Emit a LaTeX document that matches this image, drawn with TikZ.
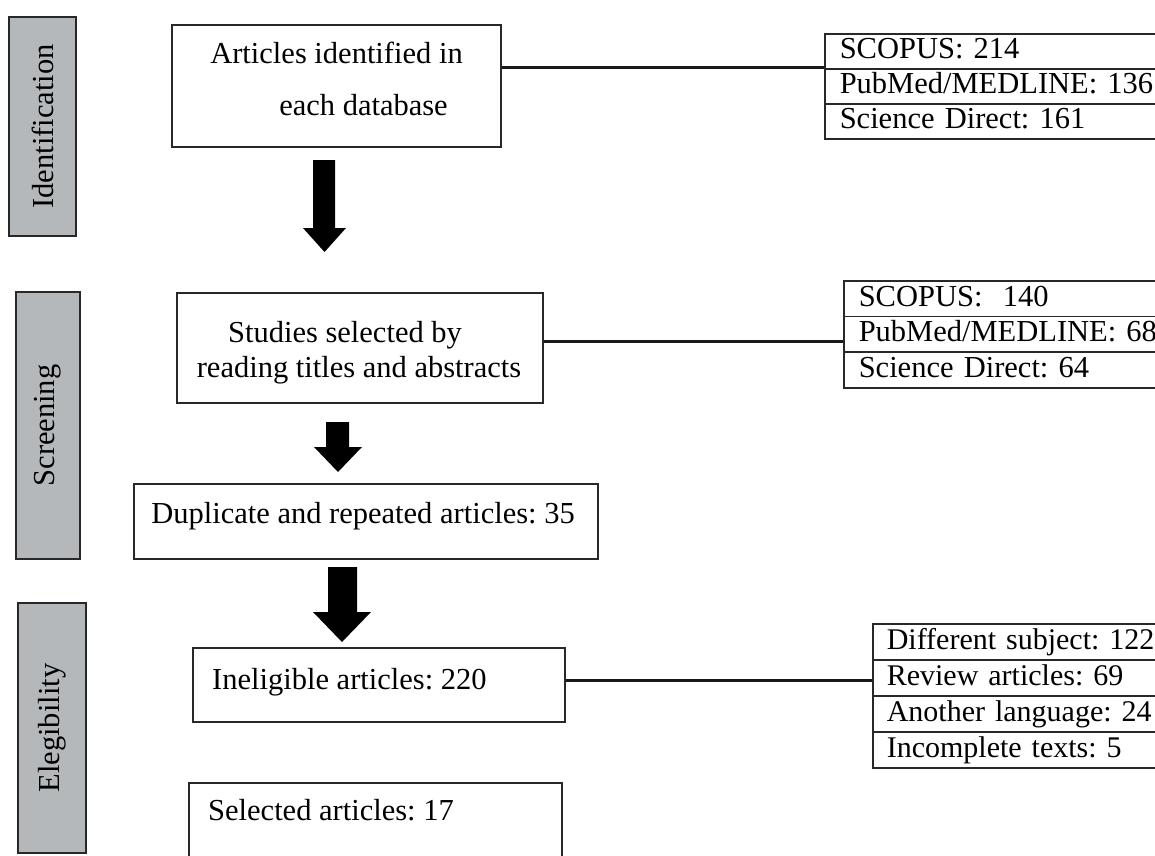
\documentclass[tikz,border=0pt]{standalone}
\usepackage{fontspec}
\setmainfont{Liberation Serif}
\definecolor{phasegrey}{RGB}{181,184,186}
\definecolor{edge}{RGB}{40,40,40}
\frenchspacing
\begin{document}
\begin{tikzpicture}[x=1pt,y=-1pt,
  every node/.style={font=\fontsize{30.5}{36}\selectfont\frenchspacing},
  phase/.style={draw=edge, line width=1.5pt, fill=phasegrey, rotate=90, inner sep=0pt},
  box/.style={draw=edge, line width=1.5pt, inner sep=0pt},
  txt/.style={inner sep=0pt, anchor=base},
  txtl/.style={inner sep=0pt, anchor=base west},
  row/.style={draw=edge, line width=1.5pt, anchor=north west, inner ysep=0pt, inner xsep=15pt,
              text width=330pt, align=left, text height=21pt, text depth=6pt, minimum height=#1},
  rowsmall/.style={inner xsep=14pt, font=\fontsize{30}{36}\selectfont\frenchspacing},
  conn/.style={draw=black!90, line width=3pt},
  blockarrow/.style={fill=black}
]
\useasboundingbox (0,0) rectangle (1155,855);
\clip (0,0) rectangle (1155,855);

% phase labels
\node[phase, minimum width=219pt, minimum height=67pt] (P1) at (42.5,126.5) {Identification};
\node[phase, minimum width=267pt, minimum height=64pt] (P2) at (48,425.5) {Screening};
\node[phase, minimum width=250pt, minimum height=68pt] (P3) at (52,728) {Elegibility};

% main boxes
\node[box, minimum width=329pt, minimum height=122pt] (B1) at (336.5,86) {};
\node[txt] (B1a) at (336.5,63) {Articles identified in};
\node[txt] (B1b) at (363.5,115) {each database};

\node[box, minimum width=366pt, minimum height=110pt] (B2) at (360,348) {};
\node[txt] (B2a) at (345,342) {Studies selected by};
\node[txt] (B2b) at (359,377) {reading titles and abstracts};

\node[box, minimum width=464pt, minimum height=75pt] (B3) at (366,521.5) {};
\node[txt] (B3a) at (363,523) {Duplicate and repeated articles: 35};

\node[box, minimum width=372pt, minimum height=74pt] (B4) at (379,685) {};
\node[txtl] (B4a) at (212,689) {Ineligible articles: 220};

\node[box, minimum width=373pt, minimum height=97pt] (B5) at (375.5,831.5) {};
\node[txtl] (B5a) at (208,820) {Selected articles: 17};

% right tables
\node[row=35pt] (R1a) at (824,33) {SCOPUS: 214};
\node[row=35pt] (R1b) at (824,68) {PubMed/MEDLINE: 136};
\node[row=35pt] (R1c) at (824,103) {Science Direct: 161};

\node[row=35.67pt] (R2a) at (843,280) {SCOPUS:\ \ 140};
\node[row=35.67pt] (R2b) at (843,315.67) {PubMed/MEDLINE: 68};
\node[row=35.67pt] (R2c) at (843,351.33) {Science Direct: 64};

\node[row=36pt, rowsmall] (R3a) at (872,623) {Different subject: 122};
\node[row=36pt, rowsmall] (R3b) at (872,659) {Review articles: 69};
\node[row=36pt, rowsmall] (R3c) at (872,695) {Another language: 24};
\node[row=36pt, rowsmall] (R3d) at (872,731) {Incomplete texts: 5};

% connectors
\coordinate (y1) at (0,67);
\coordinate (y2) at (0,341);
\coordinate (y3) at (0,680);
\draw[conn] (B1.east |- y1) -- (R1a.west |- y1);
\draw[conn] (B2.east |- y2) -- (R2b.west |- y2);
\draw[conn] (B4.east |- y3) -- (R3b.west |- y3);

% block arrows
\fill[blockarrow] (313,160) -- (335,160) -- (335,228) -- (346,228) -- (324.5,252) -- (303,228) -- (313,228) -- cycle;
\fill[blockarrow] (326,422) -- (349,422) -- (349,447) -- (362,447) -- (338,472) -- (314,447) -- (326,447) -- cycle;
\fill[blockarrow] (328,567) -- (357,567) -- (357,612) -- (371,612) -- (342,642) -- (313,612) -- (328,612) -- cycle;
\end{tikzpicture}
\end{document}
